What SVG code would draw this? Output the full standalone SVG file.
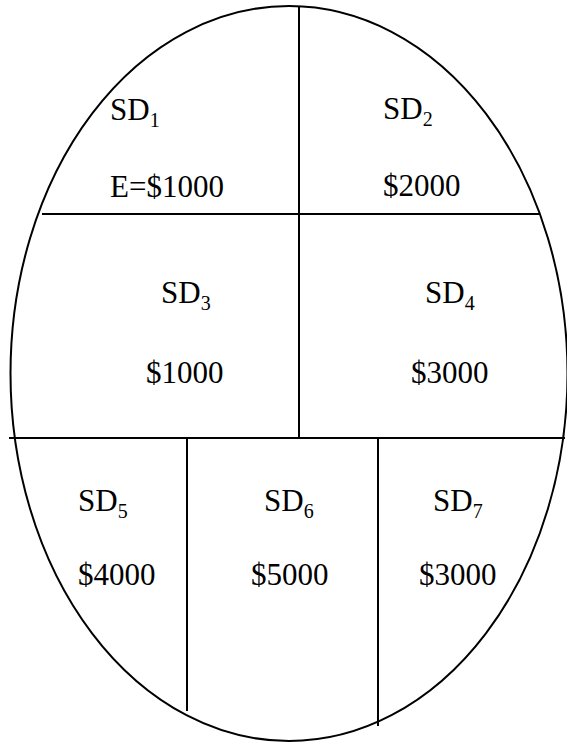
<svg xmlns="http://www.w3.org/2000/svg" width="567" height="743" viewBox="0 0 567 743">
<style>
.ln{stroke:#000;stroke-width:2;fill:none}
text{font-family:"Liberation Serif","Times New Roman",serif;font-size:31px;fill:#000}
.sub{font-size:20px}
</style>
<rect width="567" height="743" fill="#fff"/>
<g id="connectors">
<ellipse class="ln" cx="289" cy="373.5" rx="278.5" ry="367.5"/>
<line class="ln" x1="299" y1="6" x2="299" y2="438"/>
<line class="ln" x1="42" y1="214" x2="539" y2="214"/>
<line class="ln" x1="9" y1="438" x2="565" y2="438"/>
<line class="ln" x1="187" y1="438" x2="187" y2="711"/>
<line class="ln" x1="378" y1="438" x2="378" y2="726"/>
</g>
<g id="sd1"><text x="110" y="120">SD<tspan class="sub" dy="7">1</tspan></text><text x="110" y="197">E=$1000</text></g>
<g id="sd2"><text x="383" y="119">SD<tspan class="sub" dy="7">2</tspan></text><text x="383" y="196">$2000</text></g>
<g id="sd3"><text x="161" y="303">SD<tspan class="sub" dy="7">3</tspan></text><text x="146" y="383">$1000</text></g>
<g id="sd4"><text x="425" y="303">SD<tspan class="sub" dy="7">4</tspan></text><text x="411" y="383">$3000</text></g>
<g id="sd5"><text x="78" y="511">SD<tspan class="sub" dy="7">5</tspan></text><text x="78" y="585">$4000</text></g>
<g id="sd6"><text x="264" y="511">SD<tspan class="sub" dy="7">6</tspan></text><text x="251" y="585">$5000</text></g>
<g id="sd7"><text x="433" y="511">SD<tspan class="sub" dy="7">7</tspan></text><text x="419" y="585">$3000</text></g>
</svg>
